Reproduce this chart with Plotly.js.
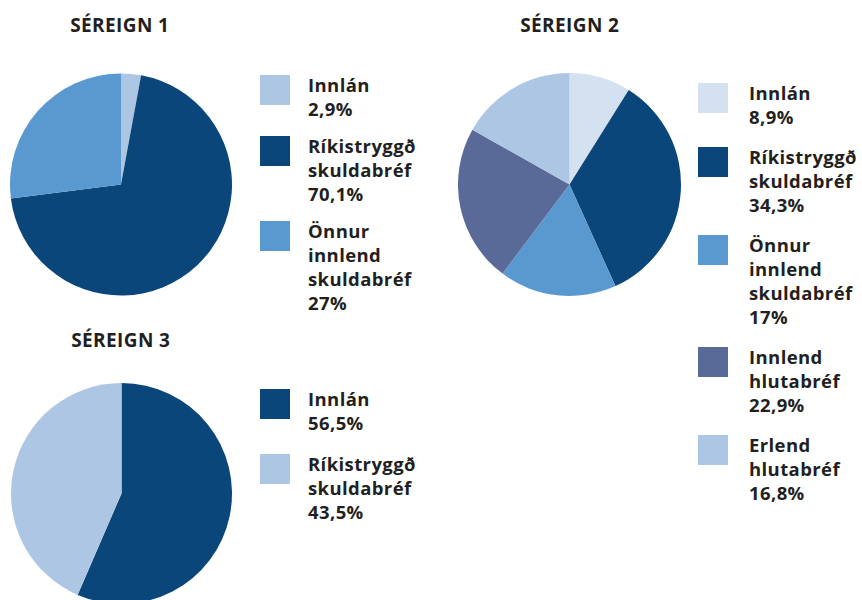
<!DOCTYPE html>
<html>
<head>
<meta charset="utf-8">
<script src="https://cdn.plot.ly/plotly-3.0.1.min.js"></script>
<style>
html,body{margin:0;padding:0;background:#fff;overflow:hidden;}
#chart{width:862px;height:612px;}
#chart text.annotation-text{letter-spacing:0.4px;}
</style>
</head>
<body>
<div id="chart"></div>
<script>
// ---- Data ----
const titles = ['SÉREIGN 1', 'SÉREIGN 2', 'SÉREIGN 3'];

const s1Labels = ['Innlán', 'Ríkistryggð skuldabréf', 'Önnur innlend skuldabréf'];
const s1Values = [2.9, 70.1, 27];
const s1Colors = ['#adc6e4', '#0a467a', '#5a98d0'];

const s2Labels = ['Innlán', 'Ríkistryggð skuldabréf', 'Önnur innlend skuldabréf', 'Innlend hlutabréf', 'Erlend hlutabréf'];
const s2Values = [8.9, 34.3, 17, 22.9, 16.8];
const s2Colors = ['#d4e1f1', '#0a467a', '#5a98d0', '#5a6a98', '#adc6e4'];

const s3Labels = ['Innlán', 'Ríkistryggð skuldabréf'];
const s3Values = [56.5, 43.5];
const s3Colors = ['#0a467a', '#adc6e4'];

// ---- Layout helpers (pixel -> paper) ----
const W = 862, H = 612;
const FONT = '"Open Sans", sans-serif';
const TXT = '#231f20';
const px = x => x / W;
const py = y => 1 - y / H;

function domainFor(cx, cy, r) {
  return { x: [px(cx - r), px(cx + r)], y: [py(cy + r), py(cy - r)] };
}
function fmt(v) { return String(v).replace('.', ',') + '%'; }

const charts = [
  { labels: s1Labels, values: s1Values, colors: s1Colors, cx: 121, cy: 184.5, r: 111,
    title: { x: 120, y: 25 }, legend: { sx: 260, tx: 306, y0: 75, gap: 13 } },
  { labels: s2Labels, values: s2Values, colors: s2Colors, cx: 569.5, cy: 184.5, r: 111.5,
    title: { x: 570, y: 25 }, legend: { sx: 698, tx: 747, y0: 83, gap: 16 } },
  { labels: s3Labels, values: s3Values, colors: s3Colors, cx: 121.5, cy: 493.5, r: 110.5,
    title: { x: 121, y: 340 }, legend: { sx: 260, tx: 306, y0: 389, gap: 17 } }
];

const LINE_H = 24, SW = 30, FS = 18.5;
const data = [], shapes = [], annotations = [];

charts.forEach((c, i) => {
  data.push({
    type: 'pie',
    labels: c.labels,
    values: c.values,
    marker: { colors: c.colors, line: { width: 0 } },
    sort: false,
    direction: 'clockwise',
    rotation: 0,
    textinfo: 'none',
    showlegend: false,
    domain: domainFor(c.cx, c.cy, c.r),
    hovertemplate: '%{label}: %{value}%<extra></extra>'
  });
  annotations.push({
    text: '<b>' + titles[i] + '</b>',
    x: px(c.title.x), y: py(c.title.y), xref: 'paper', yref: 'paper',
    xanchor: 'center', yanchor: 'middle', showarrow: false,
    font: { family: FONT, size: 19, color: TXT }
  });
  let y = c.legend.y0;
  c.labels.forEach((lab, k) => {
    const lines = lab.split(' ').concat([fmt(c.values[k])]);
    shapes.push({
      type: 'rect', xref: 'paper', yref: 'paper',
      x0: px(c.legend.sx), x1: px(c.legend.sx + SW),
      y0: py(y + SW), y1: py(y),
      fillcolor: c.colors[k], line: { width: 0 }
    });
    annotations.push({
      text: '<b>' + lines.join('<br>') + '</b>',
      x: px(c.legend.tx), y: py(y - 5), xref: 'paper', yref: 'paper',
      xanchor: 'left', yanchor: 'top', align: 'left', showarrow: false,
      font: { family: FONT, size: FS, color: TXT }
    });
    y += lines.length * LINE_H + c.legend.gap;
  });
});

const layout = {
  width: W, height: H,
  margin: { l: 0, r: 0, t: 0, b: 0 },
  paper_bgcolor: '#ffffff',
  plot_bgcolor: '#ffffff',
  showlegend: false,
  shapes: shapes,
  annotations: annotations
};

Plotly.newPlot('chart', data, layout, { displayModeBar: false, staticPlot: true });
</script>
</body>
</html>
